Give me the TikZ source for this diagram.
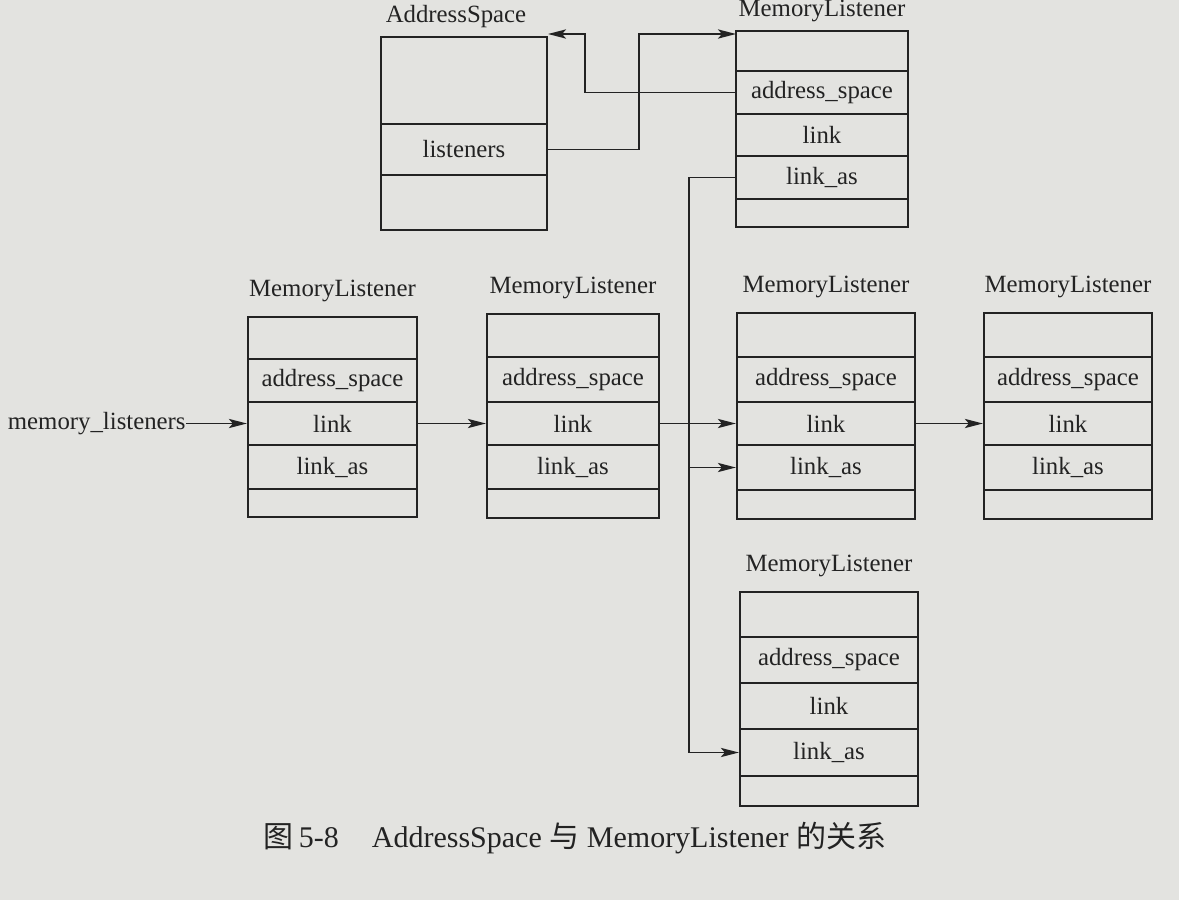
\documentclass[tikz,border=0pt]{standalone}
\usepackage{fontspec}
\setmainfont{Liberation Serif}
\newfontfamily\cjk{Noto Sans CJK SC}
\usetikzlibrary{arrows.meta,calc}
\definecolor{paper}{RGB}{227,227,224}
\definecolor{ink}{RGB}{35,35,35}
\tikzset{
  cell/.style={draw=ink, line width=1.15pt, inner sep=0pt, font=\fontsize{12.4}{14}\selectfont, text=ink},
  lbl/.style={inner sep=0pt, font=\fontsize{12.4}{14}\selectfont, text=ink},
  arr/.style={draw=ink, line width=0.95pt, -{Stealth[length=9pt,width=4.6pt,inset=2pt]}},
}
\def\lgap{25}
% name, x1, y1, x2, y2, text
\newcommand\mlrow[6]{\node[cell, minimum width={(#4-#2)*0.5pt}, minimum height={(#5-#3)*0.5pt}] (#1) at ({(#2+#4)/2},{(#3+#5)/2}) {#6};}
% prefix, x1, x2, y0, y1, y2, y3, y4, y5
\newcommand\mlbox[9]{%
  \mlrow{#1a}{#2}{#4}{#3}{#5}{}%
  \mlrow{#1b}{#2}{#5}{#3}{#6}{address\_space}%
  \mlrow{#1c}{#2}{#6}{#3}{#7}{link}%
  \mlrow{#1d}{#2}{#7}{#3}{#8}{link\_as}%
  \mlrow{#1e}{#2}{#8}{#3}{#9}{}%
  \node[lbl] (#1l) at ({(#2+#3)/2},{#4-\lgap}) {MemoryListener};%
}
\begin{document}
\begin{tikzpicture}[x=0.5pt,y=-0.5pt]
\fill[paper] (0,0) rectangle (1179,900);
\useasboundingbox (0,0) rectangle (1179,900);

% AddressSpace
\mlrow{asa}{381}{37}{547}{124}{}
\mlrow{asb}{381}{124}{547}{175}{listeners}
\mlrow{asc}{381}{175}{547}{230}{}
\node[lbl] (asl) at (456,17) {AddressSpace};

% MemoryListener boxes
\def\lgap{20}
\mlbox{t}{736}{908}{31}{71}{114}{156}{199}{227}
\def\lgap{26}
\mlbox{p}{248}{417}{317}{359}{402}{445}{489}{517}
\mlbox{q}{487}{659}{314}{357}{402}{445}{489}{518}
\mlbox{r}{737}{915}{313}{357}{402}{445}{490}{519}
\mlbox{s}{984}{1152}{313}{357}{402}{445}{490}{519}
\mlbox{u}{740}{918}{592}{637}{683}{729}{776}{806}

% head pointer
\node[lbl, anchor=east] (ml) at (186,423.5) {memory\_listeners};
\draw[arr] (ml.east) -- (pc.west);
\draw[arr] (pc.east) -- (qc.west);
\draw[arr] (qc.east) -- (rc.west);
\draw[arr] (rc.east) -- (sc.west);

% listeners -> top MemoryListener
\coordinate (j1) at (639,34);
\coordinate (tin) at (736,34);
\draw[arr] (asb.east) -| (j1) -- (tin);

% address_space -> AddressSpace
\coordinate (j2) at (585,34);
\coordinate (asin) at (548,34);
\draw[arr] (tb.west) -| (j2) -- (asin);

% link_as chain
\coordinate (vx) at (689,0);
\draw[arr] (td.west) -- (vx |- td.west) -- (vx |- ud.west) -- (ud.west);
\draw[arr] (vx |- rd.west) -- (rd.west);

% caption
\node[inner sep=0pt, text=ink, font=\fontsize{15}{17}\selectfont] (cap) at (575,838)
  {{\cjk 图}\,5-8\hspace{1.1em}AddressSpace {\cjk 与} MemoryListener {\cjk 的关系}};
\end{tikzpicture}
\end{document}
